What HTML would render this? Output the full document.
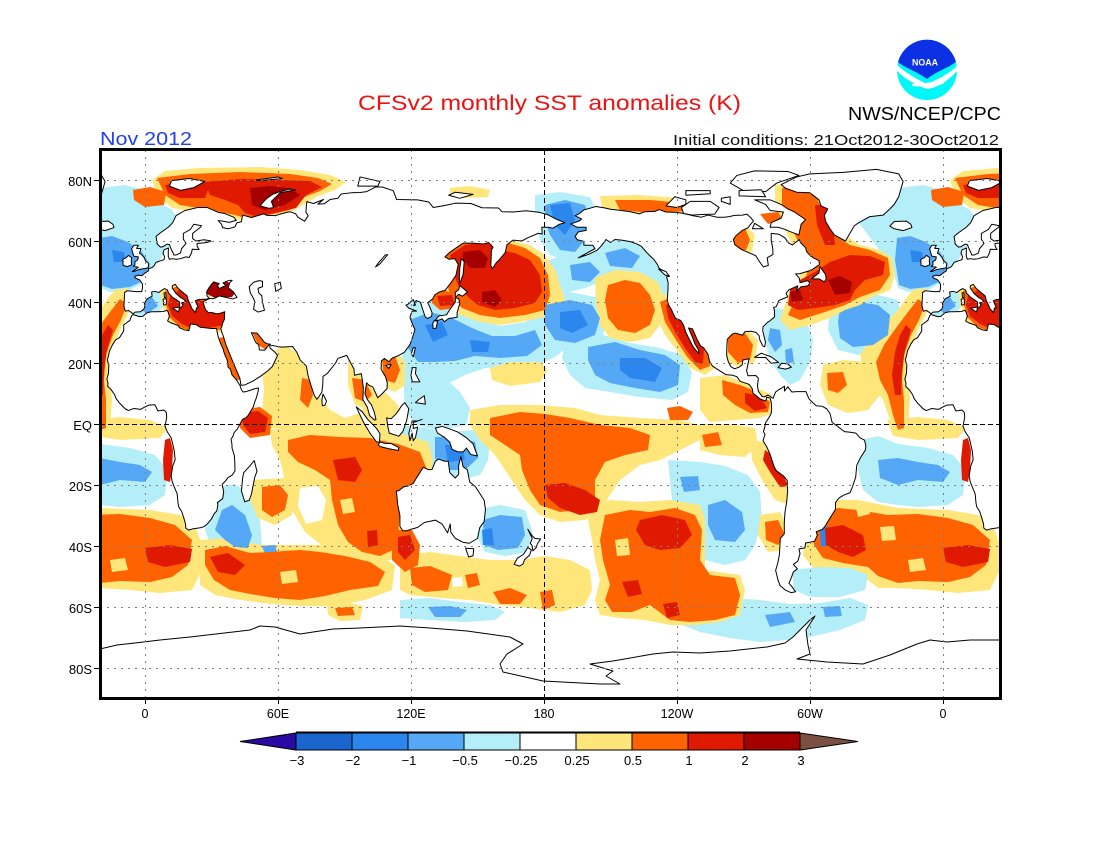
<!DOCTYPE html>
<html><head><meta charset="utf-8">
<style>
html,body{margin:0;padding:0;background:#fff;}
svg{display:block;}
.ln polygon{vector-effect:non-scaling-stroke;stroke-width:1px;}
text{font-family:"Liberation Sans",sans-serif;}
</style></head>
<body>
<svg width="1100" height="850" viewBox="0 0 1100 850" xmlns="http://www.w3.org/2000/svg" xmlns:xlink="http://www.w3.org/1999/xlink">
<defs>
<clipPath id="cf"><rect x="101" y="150" width="899" height="548"/></clipPath>

<g id="W">
 <g fill="#b4eef8">
  <polygon points="52,200 75,196 100,188 125,185 145,190 158,202 172,210 180,222 175,238 165,252 155,268 145,282 130,290 110,292 100,288 95,270 85,255 70,235 55,215"/>
  <polygon points="32,300 55,292 80,295 100,300 103,318 98,340 85,352 60,355 40,350 30,330"/>
  <polygon points="132,300 145,292 160,292 165,305 155,315 140,318 132,312"/>
  <polygon points="62,440 80,436 100,444 130,448 155,455 168,470 165,495 150,505 120,507 100,505 80,502 65,490 60,470"/>
 </g>
 <g fill="#fee67a">
  <polygon points="152,180 165,171 200,168 260,167 300,170 330,175 346,182 335,190 318,196 303,205 285,215 255,222 240,220 220,215 195,212 172,208 158,196"/>
  <polygon points="160,288 175,282 195,285 205,292 215,300 230,303 242,308 244,320 235,330 215,334 195,336 178,330 168,320 162,305"/>
  <polygon points="115,290 127,288 134,300 128,315 120,330 113,350 110,375 112,400 110,425 100,432 92,420 85,400 75,385 65,368 62,355 72,340 85,325 100,310 108,298"/>
  <polygon points="25,365 45,360 70,362 85,375 82,395 70,410 50,413 30,405 22,385"/>
  <polygon points="89,420 120,417 150,420 168,428 160,438 120,440 95,436"/>
  <polygon points="12,508 30,500 60,500 100,508 150,510 180,515 195,525 202,545 202,570 192,590 160,593 130,590 100,588 80,588 70,580 40,572 15,568 5,555 8,530"/>
 </g>
 <g fill="#55a8f5">
  <polygon points="99,238 112,236 128,242 142,252 150,265 145,280 130,287 112,289 101,285 97,260"/>
  <polygon points="42,308 60,302 80,305 92,315 90,335 75,345 55,347 42,338 40,322"/>
  <polygon points="140,300 152,297 158,306 148,313 140,310"/>
  <polygon points="80,460 100,458 120,462 140,465 152,472 145,482 120,480 100,485 82,478"/>
 </g>
 <g fill="#ff6200">
  <polygon points="157,178 190,174 240,172 290,174 318,178 332,184 320,191 302,198 290,210 265,216 245,218 235,215 210,210 180,205 165,195"/>
  <polygon points="133,190 150,187 166,192 164,205 145,207 134,200"/>
  <polygon points="165,291 178,286 195,288 205,296 220,303 238,307 241,320 230,328 212,331 195,333 180,327 170,318 166,305"/>
  <polygon points="120,299 127,304 121,320 113,335 106,355 104,380 106,400 106,428 100,430 95,415 90,395 82,380 78,362 86,345 98,328 110,312"/>
  <polygon points="29,373 45,372 49,385 40,393 30,390"/>
  <polygon points="20,515 40,508 60,510 90,515 120,514 150,518 175,525 192,540 188,565 172,577 150,582 120,581 100,583 80,576 70,567 45,563 25,558 16,545 14,530"/>
 </g>
 <g fill="#fee67a">
  <polygon points="57,503 70,502 72,514 60,517"/>
  <polygon points="82,527 96,526 98,540 84,541"/>
  <polygon points="110,560 125,558 128,570 112,572"/>
 </g>
 <g fill="#2b86ee">
  <polygon points="22,527 32,527 32,545 23,547"/>
  <polygon points="112,250 124,252 126,262 114,262"/>
 </g>
 <g fill="#e01a00">
  <polygon points="205,182 240,179 280,180 310,181 322,187 306,195 296,208 270,214 255,216 245,213 238,205 225,200 210,195"/>
  <polygon points="165,185 200,180 210,185 205,198 180,198 168,193"/>
  <polygon points="170,296 180,290 190,289 200,300 212,305 226,308 237,311 238,318 229,324 214,327 196,330 182,324 172,316 168,305"/>
  <polygon points="108,325 113,330 107,350 104,370 103,395 97,395 94,375 97,352 102,335"/>
  <polygon points="165,440 170,438 173,450 172,470 170,482 164,480 163,460"/>
  <polygon points="27,528 45,525 65,535 68,550 55,557 40,552 28,545"/>
  <polygon points="145,548 170,545 192,549 190,562 165,567 148,562"/>
 </g>
 <g fill="#a50000">
  <polygon points="250,188 270,186 290,188 300,195 285,205 265,210 252,205"/>
  <polygon points="205,285 215,281 228,282 237,290 232,297 215,298 207,294"/>
 </g>
</g>

<g id="N">
 <g fill="#b4eef8">
  <polygon points="535,195 560,192 590,197 598,215 595,240 588,258 570,262 550,255 540,240 535,220"/>
  <polygon points="545,262 570,252 600,242 625,237 645,240 662,250 672,265 672,285 665,298 650,290 640,282 620,278 600,282 585,288 565,293 548,290"/>
  <polygon points="405,298 425,296 450,305 475,318 500,326 525,322 545,312 560,316 575,330 570,345 555,357 535,366 510,370 485,368 465,375 445,385 425,392 407,392 402,360"/>
  <polygon points="540,298 570,292 600,298 608,315 602,340 580,350 555,348 542,332"/>
  <polygon points="565,342 600,334 630,343 660,348 682,355 692,372 688,392 672,400 640,397 610,392 585,388 570,375 562,358"/>
  <polygon points="403,370 425,368 445,378 460,392 470,408 466,425 440,430 418,426 405,412"/>
  <polygon points="768,308 790,310 806,320 813,340 810,362 800,380 790,385 780,375 770,360 765,340 763,320"/>
  <polygon points="400,425 425,428 450,432 475,430 490,440 488,460 480,475 460,480 440,478 425,470 410,460 400,450"/>
  <polygon points="212,488 235,484 250,495 260,520 262,545 250,556 230,555 212,550 205,530 206,505"/>
  <polygon points="477,510 500,505 525,510 532,530 528,552 505,556 485,552 476,535"/>
  <polygon points="668,460 700,462 725,466 748,475 760,492 762,520 755,545 745,560 725,565 705,560 700,540 690,510 672,500"/>
  <polygon points="400,600 430,598 460,602 490,605 505,612 495,620 465,622 430,620 400,618"/>
  <polygon points="680,612 700,604 730,598 760,600 790,604 820,603 850,598 868,605 865,620 840,630 810,637 790,640 760,642 730,638 700,632 682,625"/>
  <polygon points="792,570 820,567 850,568 868,575 865,590 840,597 810,597 794,590"/>
 </g>
 <g fill="#fee67a">
  <polygon points="450,188 470,186 490,190 488,197 465,198 450,195"/>
  <polygon points="440,250 455,240 470,235 490,232 510,240 530,245 545,255 555,270 560,285 565,300 560,310 540,318 520,322 500,325 480,322 460,315 445,300 440,280 440,265"/>
  <polygon points="600,196 640,195 680,198 692,208 688,216 650,216 615,214 602,208"/>
  <polygon points="595,278 615,270 640,272 658,282 665,300 662,322 650,338 630,342 610,338 600,325 596,305"/>
  <polygon points="655,298 672,292 690,305 705,325 713,345 715,368 705,375 690,368 678,352 665,335 657,318"/>
  <polygon points="700,378 725,375 750,385 772,395 775,412 760,418 735,420 710,422 700,410"/>
  <polygon points="722,332 745,328 758,340 755,362 740,368 725,360"/>
  <polygon points="728,226 745,224 755,235 752,252 738,255 728,245"/>
  <polygon points="775,185 800,183 820,190 835,215 845,235 860,245 880,250 892,258 895,275 890,290 870,298 860,305 845,310 830,318 810,325 790,330 780,320 785,305 790,290 800,280 800,260 790,240 780,220 775,200"/>
  <polygon points="490,368 510,362 540,362 548,370 540,382 510,386 492,380"/>
  <polygon points="268,355 285,345 300,355 310,370 318,395 330,410 345,418 360,413 368,400 375,388 385,392 398,405 402,425 380,433 340,433 300,430 270,428 262,412 264,390 262,370"/>
  <polygon points="348,360 362,358 372,375 378,395 370,410 355,405 348,385"/>
  <polygon points="376,355 395,350 405,362 405,385 395,392 380,385"/>
  <polygon points="470,410 500,405 540,405 575,408 600,415 640,418 680,420 700,425 700,440 680,450 660,460 640,465 620,480 610,495 600,510 585,520 560,522 540,515 525,500 515,485 505,470 495,455 480,440 470,425"/>
  <polygon points="590,505 610,500 640,502 670,500 700,505 705,520 705,570 740,575 745,590 740,615 720,622 695,625 670,625 645,620 620,618 600,615 595,600 600,580 595,560 592,540 588,520"/>
  <polygon points="700,424 730,424 755,428 758,445 745,457 720,455 700,450"/>
  <polygon points="750,440 765,442 780,460 792,490 790,505 775,500 762,480 752,460"/>
  <polygon points="760,515 780,512 790,530 785,550 768,552 758,535"/>
  <polygon points="270,430 300,426 340,428 380,430 400,433 428,442 433,460 428,490 412,505 402,525 400,545 392,560 370,562 345,558 325,548 305,532 292,510 286,485 280,460 272,445"/>
  <polygon points="252,480 285,478 295,492 292,515 275,525 258,518 250,500"/>
  <polygon points="200,540 230,538 260,545 290,545 320,545 350,550 375,555 395,565 392,590 365,600 335,606 300,606 270,604 240,600 215,595 200,585"/>
  <polygon points="400,555 430,552 460,556 490,560 520,560 545,556 570,560 590,570 592,590 585,605 560,612 530,608 500,605 470,600 440,598 410,595 400,590"/>
  <polygon points="327,604 345,602 363,606 360,620 340,621 328,615"/>
 </g>
 <g fill="#ffffff">
  <polygon points="300,488 318,486 326,500 322,520 306,524 298,506"/>
  <polygon points="452,578 462,577 463,586 453,587"/>
 </g>
 <g fill="#55a8f5">
  <polygon points="545,205 565,200 585,205 590,220 585,240 575,252 560,250 550,235 545,220"/>
  <polygon points="570,265 590,262 600,272 590,282 572,280"/>
  <polygon points="605,253 625,248 640,256 632,268 610,266"/>
  <polygon points="410,320 430,312 452,318 472,328 492,336 515,336 535,330 542,345 527,356 500,358 475,356 455,361 435,362 418,362 408,348"/>
  <polygon points="545,305 570,300 592,305 600,318 595,335 575,343 555,340 545,325"/>
  <polygon points="588,347 615,342 640,350 665,355 680,365 678,385 660,392 635,388 610,383 595,375 588,360"/>
  <polygon points="770,328 780,330 782,345 775,352 768,340"/>
  <polygon points="785,350 792,348 794,362 786,364"/>
  <polygon points="435,437 455,437 475,442 478,458 465,470 445,470 435,458"/>
  <polygon points="222,510 232,505 245,515 252,535 248,548 235,547 225,540 215,530"/>
  <polygon points="262,546 275,545 277,552 265,555"/>
  <polygon points="483,520 500,515 522,517 525,535 518,548 498,550 484,545"/>
  <polygon points="708,505 725,500 742,512 745,530 735,542 715,540 708,525"/>
  <polygon points="680,477 698,476 700,490 684,492"/>
  <polygon points="428,607 450,606 467,610 460,617 435,617"/>
  <polygon points="765,615 790,612 795,622 770,627"/>
  <polygon points="823,607 840,606 842,616 825,617"/>
 </g>
 <g fill="#ff6200">
  <polygon points="615,200 650,200 682,203 688,211 650,213 620,210"/>
  <polygon points="445,250 460,240 480,237 505,242 525,248 540,258 548,275 550,295 545,310 525,315 500,318 480,315 462,308 450,295 445,275"/>
  <polygon points="430,293 445,290 460,298 458,308 440,310 432,303"/>
  <polygon points="608,285 625,280 640,283 650,295 655,310 650,325 635,333 618,330 608,318 605,300"/>
  <polygon points="660,302 672,297 688,310 702,330 710,350 710,366 700,370 688,358 676,340 665,322"/>
  <polygon points="722,380 740,385 758,392 770,402 768,412 750,413 735,405 723,395"/>
  <polygon points="667,408 680,406 693,412 688,420 670,420"/>
  <polygon points="728,335 745,333 753,345 750,360 738,363 728,352"/>
  <polygon points="732,230 745,228 750,240 746,250 735,250"/>
  <polygon points="760,214 778,212 783,220 768,224"/>
  <polygon points="782,188 800,186 815,195 825,215 835,235 850,245 870,250 888,258 890,275 880,290 860,297 845,305 825,312 800,320 788,315 795,300 805,285 808,265 800,245 790,225 782,205"/>
  <polygon points="302,378 310,380 313,395 308,408 300,400"/>
  <polygon points="352,378 365,380 372,395 365,402 355,398"/>
  <polygon points="382,358 395,356 400,370 395,383 384,380"/>
  <polygon points="218,338 224,337 233,352 238,367 240,380 235,380 228,365 220,350"/>
  <polygon points="252,332 258,331 268,345 266,350 258,345"/>
  <polygon points="238,410 260,407 272,416 270,435 250,438 240,428"/>
  <polygon points="490,418 520,412 545,414 570,418 600,425 630,428 650,435 648,450 625,455 605,462 595,480 595,500 580,510 560,512 540,505 530,490 522,470 520,455 505,445 490,435"/>
  <polygon points="605,515 630,510 650,512 675,508 695,515 702,530 700,560 710,575 735,578 740,595 735,615 715,620 690,622 670,620 650,605 632,612 612,612 605,600 610,585 603,560 600,540 603,525"/>
  <polygon points="702,435 718,432 722,445 705,447"/>
  <polygon points="765,522 778,520 785,535 778,545 766,540"/>
  <polygon points="288,440 310,435 340,437 370,438 398,444 420,452 427,470 423,488 410,497 400,512 398,535 393,550 380,556 362,552 348,542 338,525 332,500 330,480 315,470 298,462 288,452"/>
  <polygon points="262,487 280,485 288,495 285,510 272,517 262,510"/>
  <polygon points="392,530 412,530 420,545 418,565 405,572 392,560"/>
  <polygon points="205,550 225,546 250,553 270,552 300,550 320,552 345,556 370,562 385,572 378,586 350,590 325,596 300,600 275,598 250,594 230,590 214,580 205,565"/>
  <polygon points="410,568 430,566 452,575 448,590 425,592 412,585"/>
  <polygon points="465,575 477,573 480,585 468,588"/>
  <polygon points="493,592 510,588 527,595 520,604 500,604"/>
  <polygon points="540,592 552,590 555,605 543,610"/>
  <polygon points="335,608 352,607 355,615 338,616"/>
 </g>
 <g fill="#fee67a">
  <polygon points="340,500 352,498 355,512 343,514"/>
  <polygon points="615,540 628,538 630,555 617,556"/>
  <polygon points="280,572 296,570 298,582 282,584"/>
 </g>
 <g fill="#2b86ee">
  <polygon points="550,205 570,203 575,220 565,235 555,225"/>
  <polygon points="425,325 442,322 448,335 433,342"/>
  <polygon points="470,340 490,342 488,352 472,352"/>
  <polygon points="560,312 580,310 588,325 572,333 560,328"/>
  <polygon points="620,358 645,358 662,368 655,382 630,378 620,370"/>
  <polygon points="482,530 492,528 494,545 483,545"/>
  <polygon points="445,445 462,445 465,460 448,462"/>
 </g>
 <g fill="#e01a00">
  <polygon points="450,255 465,245 485,242 500,250 515,253 530,260 540,275 542,292 535,303 515,308 495,310 478,305 468,297 458,285 452,270"/>
  <polygon points="437,296 452,295 455,305 440,306"/>
  <polygon points="666,305 674,302 686,315 697,332 704,350 703,364 695,362 685,348 675,332 668,318"/>
  <polygon points="745,393 760,396 767,408 755,411 745,403"/>
  <polygon points="790,290 800,280 815,272 830,262 850,255 870,256 885,262 883,275 865,280 855,290 850,300 835,305 815,308 798,310 788,305"/>
  <polygon points="815,205 825,205 833,225 835,245 825,245 817,225"/>
  <polygon points="242,413 258,411 268,418 265,432 250,434 243,425"/>
  <polygon points="545,485 565,483 585,490 600,500 597,512 580,515 560,508 548,498"/>
  <polygon points="640,520 662,515 685,520 692,535 680,548 660,550 645,545 636,530"/>
  <polygon points="622,582 638,580 642,594 628,597"/>
  <polygon points="663,604 677,602 680,615 667,618"/>
  <polygon points="333,460 355,457 362,470 355,482 338,480"/>
  <polygon points="367,531 377,530 378,545 368,547"/>
  <polygon points="210,557 228,553 245,565 235,575 218,572"/>
  <polygon points="398,537 410,535 415,550 405,560 398,552"/>
  <polygon points="765,450 772,455 782,472 788,486 780,487 770,472 763,460"/>
 </g>
 <g fill="#a50000">
  <polygon points="463,252 480,250 488,258 485,268 470,268 463,260"/>
  <polygon points="482,292 495,290 502,300 495,307 482,302"/>
  <polygon points="828,280 840,276 852,282 850,293 835,295"/>
  <polygon points="790,292 800,290 803,300 792,302"/>
 </g>
</g>

<g id="land" class="ln" fill="#ffffff" stroke="#000" stroke-width="0.42" stroke-linejoin="round">
 <polygon points="35,29.5 36.5,26 39,21.5 41,18 42.8,15 43.3,12.7 45,12.8 48.5,14 52,15.6 55.5,17.5 57.5,18.9 59.8,22.5 58.5,23.6 56.4,24.9 56.3,26.3 54,24.2 51.6,24.3 51.3,26 50,26.7 48,29.9 50.5,29.8 54,26.7 57,25.8 61.5,25.2 66.6,25.4 68.5,23.5 70,21 72.8,19 73.5,16 74.8,12.8 76.3,9.5 77.5,8.1 78.5,9 79.8,10.5 80.2,13 80.3,15.6 82.3,16.6 86,20 87,21.5 89,22 91,22.5 92.3,20.7 94.3,18 94.5,16 97.6,16.5 98.5,12 98.3,8 100.3,5.5 101.3,2.8 103.5,1.3 104.2,1.4 103.4,4 102.2,6.2 100.3,8 99.2,10 100,13.5 101,12.7 102.8,12.1 105,8.6 106.5,9.6 109.2,11.6 109.3,13.5 108.5,15.5 106.5,18 106.7,20.7 108,21.5 110,20.4 111.5,21.6 114,22.3 117,23.5 119.5,26 120.5,28 121.8,30.9 120.8,32.5 119.5,35 120.5,37 122.5,37 119,38 117.7,39 118.5,39.2 121,40.8 122,39 121.2,38.8 122.3,40.5 124.3,39.9 125.2,37.7 126.5,35 127.5,34.6 129.3,35.3 129.5,36.5 128.4,38.5 127.5,39.8 129.8,41 130.7,42.3 132.5,43.2 135.5,43.9 138.2,46.5 140.3,48.8 141.3,52.3 139.8,54.2 137.2,54 135.3,54.8 137.5,56.3 140.5,57.8 143.5,59.3 148,59.3 152.5,59 155,59.5 157,58 156.3,57 156,52 156.7,50.9 158.5,52.9 160,54 162.5,56.2 163.3,58.8 166,60.3 170,60 172.5,61 177.4,62.5 179.2,62.3 179,64.5 182,64.5 184,64.2 187,65.5 189.5,66 186,67 182,68.5 178,69.4 172,69.9 166,69.5 161,69.6 159.5,70.8 152,70.9 147,72.3 140,72.4 135,71.6 130,71 128,72.8 123,73.5 113.5,73.6 112,76.5 107,77.7 104,77.7 100,76.2 97,75.9 93,75.8 88.5,75.4 87,74 83.5,73.6 80.8,72.2 78,72.1 80.5,73.6 76,72.3 73,72.9 72.8,71.5 72.6,69.4 73.6,68.3 72,66.5 69,67.8 68,68.9 66,69.5 64.5,69.5 60,68.6 59,68.3 55,68.4 53.5,68.9 48,67.7 44,68.5 43.5,66.3 41.5,66 40.5,64.6 37.5,64 35,64.4 34.5,65.5 33,66.7 35,66.5 38,66.1 41.2,66.8 40,67.8 36,69 33,69.4 28,71 24,71 18,70 14,68.3 12.5,66 10.5,64.5 7,62.7 5,61.5 5.5,59 7,58 8,58.1 10,59 11,58.8 12,57 12.6,56.2 13,55.4 14,55.4 16,56.1 16.5,57.5 18.5,59.2 17.3,60.6 17.3,62.5 20.5,63.8 22,65.5 25.5,65 25,64.5 21.5,62.5 21.5,60.8 23,60 26.7,60.4 29.8,60 28,59.5 23.5,59.2 23.5,58.3 24.4,57.2 21.3,57.3 21,56.1 19.9,54.6 18.5,54.8 16,54.2 14,54 12.3,54.2 11,54 10.5,55 10.5,56.5 10.6,57.7 8.6,57.1 8.1,56 8.8,54.9 8.6,53.9 7,53.5 5,53 4,51.8 3.2,51.3 1.6,50.9 1.5,50.2 0,49.5 -1.3,48.7 -1.6,48.6 -3,48.8 -4.7,48.4 -4.3,47.8 -2.5,47.3 -1.2,46 -1.1,44.6 -1.5,43.4 -3.8,43.4 -8,43.7 -9.2,43.1 -9.5,38.7 -8.9,37 -7.4,37.2 -6,36.5 -5.4,36.1 -4.5,36.7 -2,36.8 -0.5,37.7 0,38.8 -0.3,39.5 0.9,41 3.2,41.9 3,43.3 4.5,43.5 6.2,43.1 7.5,43.8 8.8,44.4 10.2,43.9 10.6,42.9 12.5,41.5 14,40.8 15.6,40 15.7,38.2 16.1,38 17.2,39 16.5,39.7 18.5,40.1 17.5,40.9 16,41.5 14,42.8 12.3,44.6 12.3,45.3 13.6,45.8 14.2,45.2 15.2,44.3 17,43.2 19,42 19.5,40.5 20.2,39.5 21.2,37.8 22.8,36.5 23.2,38 24,38.2 22.7,40.4 24,40.8 26.3,40.9 27.5,40.9 29,41.2 28,42 27.8,43.3 28.7,44.5 30,45.8 31,46.6 33.5,46 32.7,45.4 33.5,44.4 35.5,45.1 36.5,45.3 35.2,46.3 38,47.1 39.3,47.1 38.2,46.3 37.5,44.7 39.8,43.4 41.5,41.5 39.5,41 36,41.6 33.5,42 31,41.1 29,41.1 26.2,40.1 26.8,38.5 27.3,37.5 28.5,36.6 30.5,36.5 32.5,36.1 34,36.3 36,36.8 35.8,35.5 35.9,34.5 35,33 34.5,31.6 34.2,31.3 34.9,29.5"/>
 <polygon points="32.3,31.3 30,31.3 25,31.7 23,32.6 20.5,32.8 19.8,30.6 18,30.8 15.5,31.6 15,32.3 11.5,33.2 10.2,33.8 11,35.3 10.4,36.8 9.8,37.3 8.5,36.9 5,36.8 3,36.8 1,36.5 -1,35.3 -2.5,35.2 -5.4,35.9 -6,35.5 -6.8,34 -9.6,32.5 -9.6,30.5 -11.5,28.3 -13.2,27.6 -14.5,26.2 -16,24 -16.5,22.3 -17,21 -16.3,19.5 -16.5,16.5 -17.2,14.7 -16.7,13.4 -16.8,12.3 -15.3,11.3 -13.7,9.6 -13,8.3 -11.4,6.8 -9,5 -7.5,4.4 -5,5.1 -2,4.8 0,5.6 1.8,6.2 4.5,6.3 5.8,4.3 7,4.4 8.5,4.6 9.6,3.8 9.8,2.3 9.5,1 9,-0.7 10,-2.5 11.8,-4.5 12.3,-6 13.2,-8.8 13.6,-11.7 12.5,-13.8 11.8,-17 12.3,-19 13.3,-20.8 14.5,-22.9 14.9,-26 15.3,-27.3 16.5,-28.6 17.5,-30.8 18.3,-32.8 18.4,-34.1 19.6,-34.8 21.5,-34.4 25,-34 26.5,-33.7 28.2,-32.7 30,-31.1 31.3,-29.3 32.4,-28.5 32.9,-26.2 32.6,-25.8 35.1,-24.4 35.5,-22 35.2,-21.2 34.8,-19.8 36.3,-18.7 37.4,-17.6 39.4,-16.7 40.6,-15.4 40.5,-12.5 40.3,-10.3 39.3,-8 39.2,-6.5 38.8,-5 39.7,-4 40.2,-2.8 41.6,-1.7 43.1,0.3 44,1.5 45.6,2.1 46.6,2.9 47.7,4.2 48.9,5.7 49.5,7.2 50.2,8.5 51,10.6 51.2,11.8 49.7,11.6 48,11.2 45.5,10.6 44.2,10.5 43.4,11.4 42.8,12.7 41.2,14.5 40,15.5 39.3,16 38.5,18 37.5,18.6 37.1,21 36.3,22.2 35.5,23.8 35.3,24.5 34,26.6 33.1,28.4 32.6,29.9"/>
 <polygon points="-168,65.6 -165,64.5 -161,64.5 -161,63.5 -164.5,63 -166,61.5 -165,60.4 -162,59.9 -162,58.6 -158,58.6 -157,57.5 -162,55.5 -164.5,54.5 -160,55.6 -156,57 -154,58.5 -152,60.5 -150,59.5 -148,60.5 -145,60.3 -141,59.8 -138,59 -136,58.2 -134,56.5 -132,55 -130.5,54 -129,52.5 -128,51 -125.5,50 -123.5,48.5 -124.7,48.2 -124,46.3 -124.1,43.5 -124.4,40.4 -123.7,38.9 -122.5,37.5 -121.9,36.5 -120.6,34.6 -118.4,34 -117.1,32.5 -116,30 -114.5,27.8 -112.3,24.8 -110,23 -110.3,24.3 -112,26.4 -113,28.4 -114.8,31.5 -113,31.2 -111,27.8 -109.3,25.5 -108,25 -106,22.8 -105.3,20.5 -104,19 -101.5,17.8 -98,16.2 -95,16 -93,15.5 -91.5,14 -89.5,13.5 -87.5,13 -86,11.5 -85.7,10 -84.8,9.6 -82.5,8.2 -80,7.5 -79.5,8.8 -78,8.5 -77.5,7.2 -77.3,5 -77.5,3.5 -78.6,2 -80,0.5 -80.4,-1 -81,-2.5 -80.3,-3.4 -81.2,-5.5 -79.5,-7.5 -78,-10 -76.2,-14 -75.2,-15.3 -72,-17 -70.3,-18.5 -70.1,-22 -70.5,-25.5 -71.3,-29 -71.6,-32.5 -71.6,-36 -73.4,-37.5 -73.6,-40 -73.8,-42.8 -74.5,-45.5 -75.5,-48 -74.5,-51 -73.5,-53 -71,-54.5 -68.5,-55.3 -66.5,-55 -68.5,-53 -69.5,-52.2 -68.5,-50.5 -67.5,-48.5 -65.7,-47.5 -67.5,-46 -65.5,-45 -64.5,-42.5 -65,-41 -62.3,-40.6 -62,-39 -58,-38.5 -56.7,-36.5 -57.2,-35.3 -54.5,-34.6 -53.2,-33.5 -50.7,-30.5 -48.5,-28 -48.5,-25.8 -47,-24.3 -44.7,-23.3 -41.9,-22.5 -40.8,-20.5 -39.4,-17.5 -38.9,-13.5 -37.2,-11 -35,-8.5 -34.8,-7.2 -35.4,-5.3 -37.5,-4.5 -39.3,-3 -41.8,-2.7 -44.5,-2.5 -47.8,-0.6 -50,0.5 -51,3.5 -52.5,5 -54.5,5.8 -57.2,6 -58.5,6.8 -60.5,8.3 -61.8,10.6 -64,10.6 -66,10.6 -68.2,10.5 -70,12.2 -71.5,10.8 -71.5,12.4 -72.5,11.9 -74.2,11.2 -75.5,10.5 -76.7,8.4 -77.7,8.9 -79,9.5 -80.5,8.9 -81.5,9 -83.3,10.7 -83.7,12.5 -83.3,15 -84.5,15.9 -88,15.8 -88.6,17.5 -87.5,21.4 -90.3,21 -90.5,19.5 -91.8,18.7 -94,18.1 -95.7,18.8 -96.9,20.5 -97.6,22.5 -97.5,25.5 -97.3,27.8 -95,29.5 -93.5,29.8 -90.5,29.1 -89.3,30.3 -86.5,30.4 -84.3,30 -83,29 -82.6,27.5 -81.3,25.6 -80.4,25.3 -80.1,26.9 -81.3,30.5 -81.2,31.9 -79.2,33.3 -78,33.9 -76,35.1 -76,37 -76.4,38.2 -75.2,38.5 -74,40.5 -72,41.1 -70,41.7 -70.8,42.9 -69.5,44 -67,44.8 -65.5,45.3 -66,43.6 -64,45 -61,45.3 -60,46.2 -61,47 -64.5,46.3 -64.8,47.8 -66.5,49.2 -64.5,49.3 -59.5,50.4 -57.3,51.5 -55.7,52.3 -56,53.6 -58.5,54.5 -60,55.3 -61.5,56.5 -62,57.8 -64.3,59.5 -64.8,60.5 -68,58.7 -69.5,59.3 -71.4,61.1 -74,62.2 -77.5,62.5 -77.5,60.2 -76.8,57.5 -76.7,55.6 -79.3,54.5 -78.8,52 -81,51.5 -82.3,52.7 -84.5,55.2 -88,56.3 -90.9,57.2 -93.9,58.8 -94.6,60.5 -93.3,61.8 -90.5,63.5 -88,64.3 -87,65.3 -85.5,66.5 -86.5,67.5 -88.5,68.8 -90.5,68.5 -94,68.4 -96.5,68 -98.5,67.8 -102,67.8 -106,68.5 -109,67.8 -113,68.3 -116,68.9 -120,69.4 -125,69.5 -128,70.3 -130,69.7 -134.5,69.6 -137,68.9 -141,69.6 -145,70 -150,70.4 -153,70.9 -156.6,71.3 -159,70.8 -162,70.2 -164,69 -166,68.3 -163,67.2 -164,66.6"/>
 <polygon points="-73,78.5 -66,81 -60,82 -45,82.5 -30,83.5 -20,82 -18,79.5 -19,77 -20,74.5 -22,72 -24,70.5 -27,68.5 -33,68 -38,66 -40,65 -42,62.5 -44,60 -46,60.8 -49,62 -51,64 -53,66.5 -53.5,68.5 -52,70.5 -55,71.5 -56,73.5 -60,75.8 -66,76 -71,77.3"/>
 <polygon points="-65,62 -68,62.8 -72,64 -74.5,64.5 -78,64.5 -77.5,66 -73,67.5 -72,69.5 -78,70 -80,72 -85,73.5 -78,73.5 -73,72 -70,70.5 -67,69.5 -62,67 -64,65.5"/>
 <polygon points="-118,71 -114,73 -105,73 -101,71 -103,68.8 -109,68.7 -113,68.5 -117,69"/>
 <polygon points="-90,76.5 -80,76.2 -75,79 -65,81.5 -70,82.8 -85,83 -93,81.5 -96,79"/>
 <polygon points="-125,71.5 -121,74.5 -116,73.5 -116,72 -120,71"/>
 <polygon points="-80,74.5 -92,74.8 -92,76.5 -82,76.8"/>
 <polygon points="-116,75 -105,75.5 -105,76.5 -116,76.5"/>
 <polygon points="-100,73 -96,72 -96,74.5 -100,74"/>
 <polygon points="-86,64 -81,64 -85,65.8"/>
 <polygon points="-59.3,47.6 -56,49.5 -55.5,51.6 -53,49 -52.7,47.5 -53.6,46.6 -56,47.6"/>
 <polygon points="-85,21.9 -82,23.2 -77.5,22 -74.2,20.2 -77.5,19.9 -80,21.8 -83,21.8"/>
 <polygon points="-74.4,18.5 -72.8,19.9 -70,19.7 -68.4,18.6 -71,18"/>
 <polygon points="-128.3,50.8 -125,50 -123.4,48.4 -125.5,48.9"/>
 <polygon points="-5,50 -3,50.6 1.4,51.2 1.7,52.7 0.3,53.4 -0.3,54.5 -1.6,55.6 -2.5,56 -1.8,57.5 -3.8,57.6 -3,58.6 -5,58.6 -6,57.5 -5.6,56.2 -5,55 -3,54.8 -3.3,53.8 -4.6,53.2 -4.5,52.2 -5.3,51.7 -3,51.4 -5.7,50"/>
 <polygon points="-6,52.2 -6.2,53.5 -6,54.5 -7.5,55.3 -8.5,54.5 -10,54 -9.9,52 -8,51.6"/>
 <polygon points="-22,64 -24,64.9 -22,66.4 -16.5,66.5 -14.5,65.5 -14,64.4 -18,63.4"/>
 <polygon points="11,78 16,76.6 22,77.5 27,79.5 20,80.5 12,79.8"/>
 <polygon points="52,71.5 56,70.7 58,71 57,73 61,75.8 68,76.8 65,77 58,75.5 55,74 53,72.5"/>
 <polygon points="96,78 105,78 106,79.5 97,81"/>
 <polygon points="50,80 60,81 62,80.5 52,79.8"/>
 <polygon points="137,75 142,74 148,75.3 140,76"/>
 <polygon points="47,45 49,46.5 51.5,47 53,46.8 53,45 51,44.5 51.3,43 52.7,42 53,40 53.9,37.3 51,36.7 49,37.6 49.5,40.2 48.5,41.8 47.5,43"/>
 <polygon points="58.5,46 61,46.5 61.5,44.5 59,43.5"/>
 <polygon points="104,51.5 106,52.5 109.5,55.5 108.5,55.5 105.5,53"/>
 <polygon points="12.4,38 15.6,38.3 15.1,36.7"/>
 <polygon points="8.2,41 9.7,41 9.6,39.1 8.4,39"/>
 <polygon points="8.6,43 9.4,43 9.5,41.4 8.8,41.5"/>
 <polygon points="142,46 143.5,49 144,53.2 142.7,54.3 142,51 141.8,48"/>
 <polygon points="140,41.5 141.5,42.5 143.2,41.9 145.5,43.3 142,45.4 141.5,44 140,43.2"/>
 <polygon points="130.9,34 132.5,35.4 136,35.8 137.5,37.5 140,40 140,41.3 141.5,41.2 142,39.5 140.8,36.5 140.8,35 139,34.8 137,34.6 135,33.5 134,34.5 132.4,34"/>
 <polygon points="130,31.3 131.3,31.4 132,33.7 130.5,33.9 129.8,33"/>
 <polygon points="120.1,23 121,25 122,25 121,22"/>
 <polygon points="108.6,19.2 111,19.6 110,18.2"/>
 <polygon points="120,16 120.6,18.5 122.3,18.5 122,16.5 124,13.8 120.6,13.8"/>
 <polygon points="122,7 126.5,6.5 126,9.3 123.5,8"/>
 <polygon points="109,2 109.6,-1 110.2,-3 114.5,-4 116.3,-2.5 118,1 119,5 117.2,7 116,6.2 113.5,3.5 111,1.7"/>
 <polygon points="95.3,5.6 98,4 100.5,1.5 104.5,-1.5 106,-3.2 105.8,-5.9 104.5,-5.9 101.5,-3 99,0 97.5,2.2"/>
 <polygon points="105.2,-6.8 106,-5.9 108.5,-6.4 111,-6.4 114.5,-7.7 114.3,-8.7 110,-8.1 106,-7.4"/>
 <polygon points="119.5,-5.5 119,-3 120.5,1 123,1 125,1.5 121,0.5 121,-1.5 123,-1 122,-4.5 121,-5.5 120.5,-3"/>
 <polygon points="131,-1.3 134,-0.8 137,-1.5 141,-2.6 145,-4.5 148,-6.5 150,-10.5 147,-10 145,-7.9 143.5,-9.2 141,-9.1 138.5,-8.3 137.5,-6 135,-4.3 132,-3"/>
 <polygon points="113.4,-22 114,-26.5 115,-30 115,-33.6 116.3,-35 118,-35 123,-33.9 126,-32.3 131,-31.5 134,-32.8 136.5,-35.7 137.7,-32.8 138,-35.5 140,-37.5 143.5,-38.8 146.3,-39.1 150,-37.5 151,-34 153,-32 153.6,-28 153,-25 150.8,-22.5 149,-20.5 146.5,-19 145.4,-15 143.5,-14 142.5,-10.7 141.5,-13.5 141.5,-16.5 140,-17.7 137.5,-16 136.8,-12.2 135,-12.2 132.5,-11.5 131,-12.2 129.5,-14.9 128,-15 125.5,-14.2 123.5,-16.5 122.2,-18 121,-19.5 118.8,-20.3 116.7,-20.6 114.6,-21.8"/>
 <polygon points="144.6,-40.7 148.3,-40.9 148,-43.2 146,-43.6"/>
 <polygon points="172.7,-34.5 174.5,-36.5 175.9,-37.5 178.5,-37.7 177,-39.3 176.5,-40.5 175,-41.6 174.6,-39.8 173.8,-39.1 174.7,-37.5"/>
 <polygon points="172.7,-40.5 174.3,-41.3 173.5,-43 171.2,-44.5 170.5,-45.9 169,-46.6 166.5,-46 168,-44 170.8,-42.7"/>
 <polygon points="79.8,8 80.3,9.8 81.9,7.5 81.2,6.2 80,6"/>
 <polygon points="49.3,-12 50.5,-15.5 49.5,-17.5 48,-23 47,-25 45,-25.5 43.5,-22 44,-18 44.5,-16 47,-14"/>
</g>
</defs>

<g clip-path="url(#cf)">
 <use xlink:href="#W" href="#W"/>
 <use xlink:href="#W" href="#W" transform="translate(798,0)"/>
 <use xlink:href="#N" href="#N"/>
 <g transform="translate(145,424) scale(2.21667,-3.05)">
  <use xlink:href="#land" href="#land"/>
  <use xlink:href="#land" href="#land" transform="translate(360,0)"/>
 </g>
 <polygon fill="#fff" stroke="#000" stroke-width="1" stroke-linejoin="round" points="100,649 117,645 135,643 160,640 190,637 233,632 250,630 260,626 275,627 300,634 333,629 360,628 400,626 430,628 467,631 510,637 523,644 507,654 500,664 503,672 543,681 600,684 620,684 606,676 613,671 590,664 613,661 653,654 673,652 700,653 730,651 767,647 785,643 793,637 800,630 810,620 815,616 806,630 808,645 810,654 797,659 827,662 863,664 890,655 917,644 930,640 947,642 970,640 1003,640 1003,702 98,702"/>
 <g stroke="#808080" stroke-width="1" stroke-dasharray="2,5" fill="none">
  <line x1="145.5" y1="150" x2="145.5" y2="699"/>
  <line x1="278.5" y1="150" x2="278.5" y2="699"/>
  <line x1="411.5" y1="150" x2="411.5" y2="699"/>
  <line x1="677.5" y1="150" x2="677.5" y2="699"/>
  <line x1="810.5" y1="150" x2="810.5" y2="699"/>
  <line x1="943.5" y1="150" x2="943.5" y2="699"/>
  <line x1="100" y1="180.5" x2="1001" y2="180.5"/>
  <line x1="100" y1="241.5" x2="1001" y2="241.5"/>
  <line x1="100" y1="302.5" x2="1001" y2="302.5"/>
  <line x1="100" y1="363.5" x2="1001" y2="363.5"/>
  <line x1="100" y1="485.5" x2="1001" y2="485.5"/>
  <line x1="100" y1="546.5" x2="1001" y2="546.5"/>
  <line x1="100" y1="607.5" x2="1001" y2="607.5"/>
  <line x1="100" y1="668.5" x2="1001" y2="668.5"/>
 </g>
 <g stroke="#000" stroke-width="1" stroke-dasharray="5,3" fill="none">
  <line x1="544.5" y1="150" x2="544.5" y2="699"/>
  <line x1="100" y1="424.5" x2="1001" y2="424.5"/>
 </g>
</g>

<rect x="100.5" y="149.5" width="900" height="549" fill="none" stroke="#000" stroke-width="3"/>

<g stroke="#000" stroke-width="1">
 <line x1="94" y1="180.5" x2="99" y2="180.5"/>
 <line x1="94" y1="241.5" x2="99" y2="241.5"/>
 <line x1="94" y1="302.5" x2="99" y2="302.5"/>
 <line x1="94" y1="363.5" x2="99" y2="363.5"/>
 <line x1="94" y1="424.5" x2="99" y2="424.5"/>
 <line x1="94" y1="485.5" x2="99" y2="485.5"/>
 <line x1="94" y1="546.5" x2="99" y2="546.5"/>
 <line x1="94" y1="607.5" x2="99" y2="607.5"/>
 <line x1="94" y1="668.5" x2="99" y2="668.5"/>
 <line x1="145.5" y1="700" x2="145.5" y2="704"/>
 <line x1="278.5" y1="700" x2="278.5" y2="704"/>
 <line x1="411.5" y1="700" x2="411.5" y2="704"/>
 <line x1="544.5" y1="700" x2="544.5" y2="704"/>
 <line x1="677.5" y1="700" x2="677.5" y2="704"/>
 <line x1="810.5" y1="700" x2="810.5" y2="704"/>
 <line x1="943.5" y1="700" x2="943.5" y2="704"/>
</g>

<g font-size="13" fill="#000" text-anchor="end">
 <text x="92" y="186">80N</text>
 <text x="92" y="247">60N</text>
 <text x="92" y="308">40N</text>
 <text x="92" y="369">20N</text>
 <text x="92" y="430">EQ</text>
 <text x="92" y="491">20S</text>
 <text x="92" y="552">40S</text>
 <text x="92" y="613">60S</text>
 <text x="92" y="674">80S</text>
</g>
<g font-size="12.5" fill="#000" text-anchor="middle">
 <text x="145" y="718">0</text>
 <text x="278" y="718">60E</text>
 <text x="411" y="718">120E</text>
 <text x="544" y="718">180</text>
 <text x="677" y="718">120W</text>
 <text x="810" y="718">60W</text>
 <text x="943" y="718">0</text>
</g>

<text x="358" y="110" font-size="21" fill="#ee1111" textLength="383" lengthAdjust="spacingAndGlyphs">CFSv2 monthly SST anomalies (K)</text>
<text x="100" y="145" font-size="18" fill="#2040f0" textLength="92" lengthAdjust="spacingAndGlyphs">Nov 2012</text>
<text x="673" y="145" font-size="15" fill="#111" textLength="326" lengthAdjust="spacingAndGlyphs">Initial conditions: 21Oct2012-30Oct2012</text>
<text x="848" y="120" font-size="18" fill="#000" textLength="153" lengthAdjust="spacingAndGlyphs">NWS/NCEP/CPC</text>

<circle cx="927" cy="70" r="30" fill="#00f8f8"/>
<path d="M897,65 C906,73 918,80 927,84 C936,80 946,76 957,66 L957,71 C946,83 936,88 927,89 C918,86 906,80 897,71 Z" fill="#fff"/>
<path d="M898,62 A30,30 0 0 1 956,62 C948,68 935,72 927,79 C918,72 905,68 898,62 Z" fill="#0c30e4"/>
<path d="M912,84 C920,83 935,83 944,80 L943,84 C933,87 920,87 912,86 Z" fill="#fff"/>
<text x="925" y="65.5" font-size="9" font-weight="bold" fill="#fff" text-anchor="middle" textLength="26" lengthAdjust="spacingAndGlyphs">NOAA</text>

<polygon points="240,741.5 296,733 296,750" fill="#2a0aa0" stroke="#000" stroke-width="1"/>
<polygon points="800,733 858,741.5 800,750" fill="#7a5044" stroke="#000" stroke-width="1"/>
<g stroke="#000" stroke-width="1">
 <rect x="296" y="733" width="56" height="17" fill="#1a66cc"/>
 <rect x="352" y="733" width="56" height="17" fill="#2b86ee"/>
 <rect x="408" y="733" width="56" height="17" fill="#55a8f5"/>
 <rect x="464" y="733" width="56" height="17" fill="#b4eef8"/>
 <rect x="520" y="733" width="56" height="17" fill="#ffffff"/>
 <rect x="576" y="733" width="56" height="17" fill="#fee67a"/>
 <rect x="632" y="733" width="56" height="17" fill="#ff6200"/>
 <rect x="688" y="733" width="56" height="17" fill="#e01a00"/>
 <rect x="744" y="733" width="56" height="17" fill="#a50000"/>
</g>
<rect x="296" y="731.5" width="504" height="2" fill="#000"/>
<g font-size="13" fill="#000" text-anchor="middle">
 <text x="297" y="765">−3</text>
 <text x="353" y="765">−2</text>
 <text x="409" y="765">−1</text>
 <text x="465" y="765">−0.5</text>
 <text x="521" y="765">−0.25</text>
 <text x="577" y="765">0.25</text>
 <text x="633" y="765">0.5</text>
 <text x="689" y="765">1</text>
 <text x="745" y="765">2</text>
 <text x="801" y="765">3</text>
</g>
</svg>
</body></html>
